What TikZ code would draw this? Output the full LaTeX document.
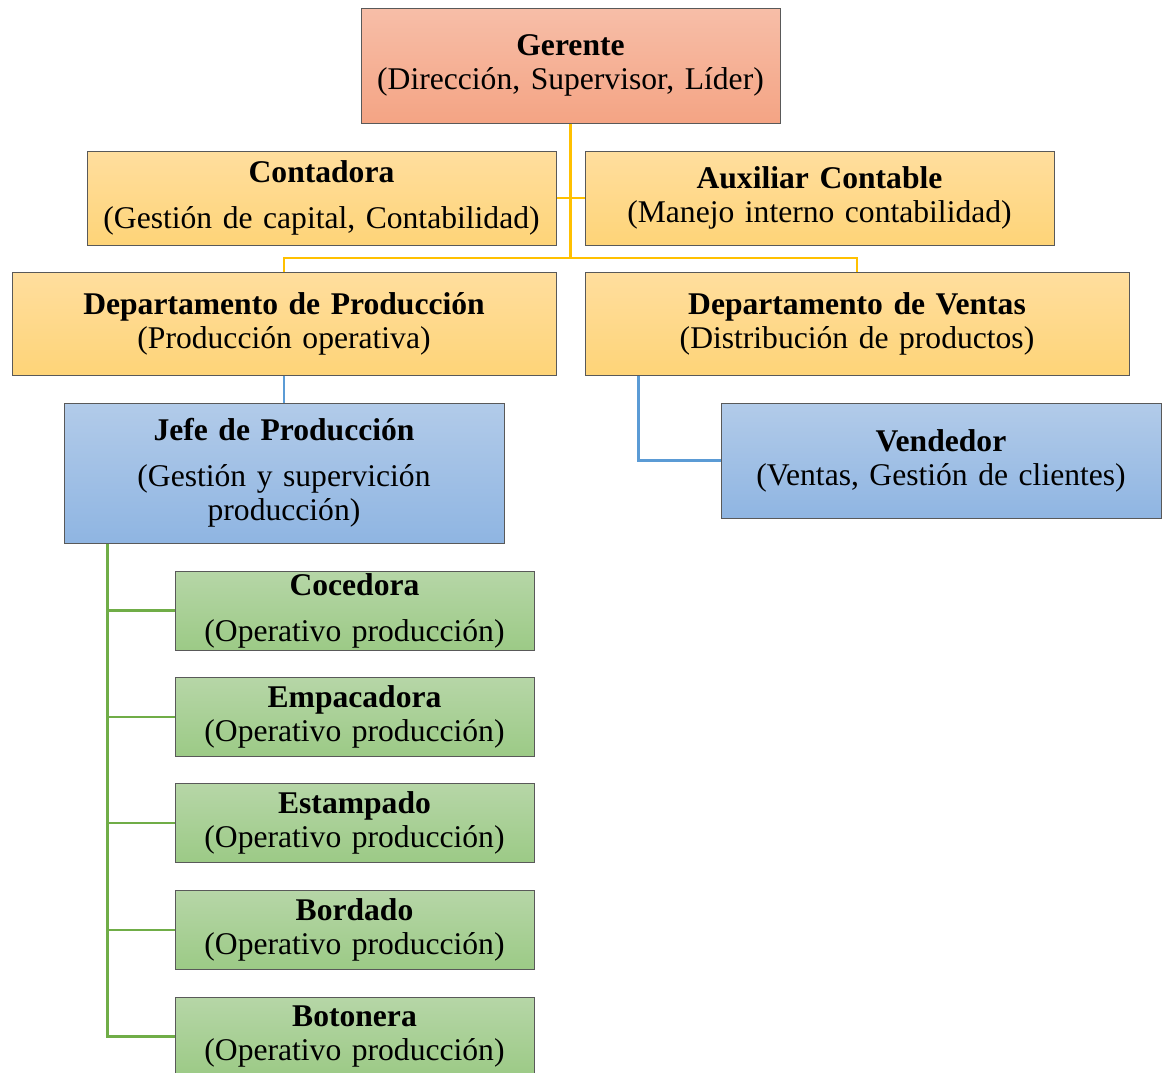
\documentclass[tikz,border=0pt]{standalone}
\usepackage{fontspec}
\setmainfont{Liberation Serif}
\usepackage{tikz}
\usetikzlibrary{positioning}

\definecolor{salmonTop}{RGB}{247,190,168}
\definecolor{salmonBot}{RGB}{244,164,132}
\definecolor{goldTop}{RGB}{255,222,158}
\definecolor{goldBot}{RGB}{254,212,120}
\definecolor{blueTop}{RGB}{178,203,233}
\definecolor{blueBot}{RGB}{143,181,226}
\definecolor{greenTop}{RGB}{182,214,167}
\definecolor{greenBot}{RGB}{156,202,134}
\definecolor{goldLine}{RGB}{255,192,0}
\definecolor{blueLine}{RGB}{91,155,213}
\definecolor{greenLine}{RGB}{112,173,71}

\begin{document}
\begin{tikzpicture}[x=0.5pt,y=-0.5pt]
\tikzstyle{box}=[draw=black!65, line width=0.5pt, rectangle, inner sep=0pt, align=center,
  font=\fontsize{15.8}{17}\selectfont]
\tikzstyle{boss}=[box, top color=salmonTop, bottom color=salmonBot, minimum width=209.5pt, minimum height=57.5pt, text width=205pt]
\tikzstyle{staff}=[box, top color=goldTop, bottom color=goldBot, minimum width=234.5pt, minimum height=47pt, text width=230pt]
\tikzstyle{dept}=[box, top color=goldTop, bottom color=goldBot, minimum width=272pt, minimum height=51.5pt, text width=265pt]
\tikzstyle{chief}=[box, top color=blueTop, bottom color=blueBot, minimum width=220pt, text width=215pt]
\tikzstyle{worker}=[box, top color=greenTop, bottom color=greenBot, minimum width=179.5pt, minimum height=39.5pt, text width=175pt]
\tikzstyle{goldlink}=[goldLine, line width=1.25pt]
\tikzstyle{bluelink}=[blueLine, line width=1.25pt]
\tikzstyle{greenlink}=[greenLine, line width=1.25pt]

\useasboundingbox (0,0) rectangle (1163,1072);

\node (gerente) [boss] at (570.5,65.5) {\textbf{Gerente}\\(Dirección, Supervisor, Líder)};
\node (contadora) [staff] at (321.5,198) {\textbf{Contadora}\\[6pt](Gestión de capital, Contabilidad)};
\node (auxiliar) [staff] at (819.5,198) {\textbf{Auxiliar Contable}\\(Manejo interno contabilidad)};
\node (dprod) [dept] at (284,323.5) {\textbf{Departamento de Producción}\\(Producción operativa)};
\node (dventas) [dept] at (857,323.5) {\textbf{Departamento de Ventas}\\(Distribución de productos)};
\node (jefe) [chief, minimum height=70pt] at (284,473) {\textbf{Jefe de Producción}\\[6pt](Gestión y supervición\\producción)};
\node (vendedor) [chief, minimum height=57.5pt] at (941,460.5) {\textbf{Vendedor}\\(Ventas, Gestión de clientes)};

\node (cocedora) [worker] at (354.5,610.5) {\textbf{Cocedora}\\[6pt](Operativo producción)};
\node (empacadora) [worker] at (354.5,717) {\textbf{Empacadora}\\(Operativo producción)};
\node (estampado) [worker] at (354.5,823) {\textbf{Estampado}\\(Operativo producción)};
\node (bordado) [worker] at (354.5,930) {\textbf{Bordado}\\(Operativo producción)};
\node (botonera) [worker] at (354.5,1036.5) {\textbf{Botonera}\\(Operativo producción)};

% upper levels
\coordinate (split) at (570.5,258);
\draw [goldlink] (gerente) -- (split);
\draw [goldlink] (contadora.east) -- (auxiliar.west);
\draw [goldlink] (dprod.north) |- (split) -| (dventas.north);

\draw [bluelink] (dprod.south) -- (jefe.north);
\draw [bluelink] ([xshift=27pt]dventas.south west) |- (vendedor.west);

% operators
\coordinate (trunk) at ([xshift=22pt]jefe.south west);
\draw [greenlink] (trunk) |- (botonera.west);
\foreach \n in {cocedora,empacadora,estampado,bordado}
  \draw [greenlink] (trunk |- \n.west) -- (\n.west);

\end{tikzpicture}
\end{document}
